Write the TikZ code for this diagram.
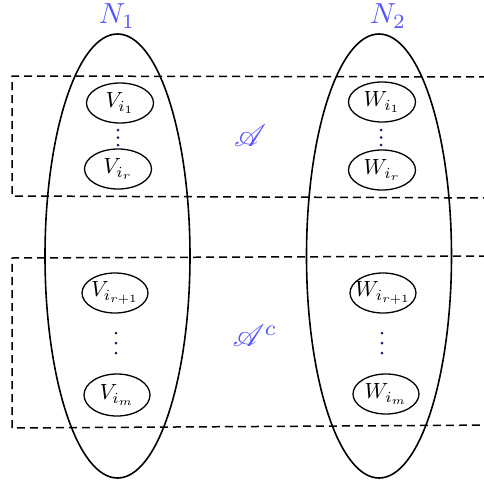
\documentclass[tikz,border=0pt]{standalone}
\usepackage{graphicx}
\usepackage{mathrsfs}
\usetikzlibrary{shapes.geometric}
\definecolor{lblue}{RGB}{85,85,255}
\definecolor{dotnavy}{RGB}{30,30,90}
\newcommand{\elemtxt}[1]{\makebox[0pt][c]{\scalebox{2.2}{$#1$}}}
\newcommand{\settxt}[1]{\scalebox{2.9}{$#1$}}
\newcommand{\evtxt}[1]{\scalebox{3.1}{$#1$}}
\begin{document}
\begin{tikzpicture}[x=1pt,y=-1pt,
  bigset/.style={draw, ellipse, line width=1.6pt, minimum width=145pt, minimum height=444pt, inner sep=0pt},
  elem/.style={draw, ellipse, line width=1.3pt, minimum width=66pt, minimum height=40pt, inner sep=0pt},
  setlabel/.style={text=lblue, inner sep=0pt},
  evlabel/.style={text=lblue, inner sep=0pt},
  region/.style={dashed, dash pattern=on 8pt off 5pt, line width=1.5pt},
  vdot/.style={fill=dotnavy, draw=none, circle, inner sep=0pt, minimum size=3pt}]
\useasboundingbox (0,0) rectangle (484,485);
% dashed regions
\draw[region] (500,77) -- (12,76) -- (12,196) -- (500,198);
\draw[region] (500,256) -- (12,258) -- (12,428) -- (500,425);
% big sets
\node[bigset] (N1) at (117.5,256) {};
\node[bigset] (N2) at (379,256) {};
\node[setlabel] (N1l) at (117,16) {\settxt{N_1}};
\node[setlabel] (N2l) at (388,16) {\settxt{N_2}};
% elements
\node[elem, minimum width=67pt] (V1) at (120,103) {\elemtxt{V_{i_1}}};
\node[elem, minimum width=67pt] (Vr) at (118,169) {\elemtxt{V_{i_r}}};
\node[elem, minimum width=67pt] (W1) at (382,102) {\elemtxt{W_{i_1}}};
\node[elem, minimum width=67pt] (Wr) at (382,170) {\elemtxt{W_{i_r}}};
\node[elem] (Vr1) at (115,293) {\elemtxt{V_{i_{r+1}}}};
\node[elem, minimum height=42pt] (Vm) at (117,395) {\elemtxt{V_{i_m}}};
\node[elem] (Wr1) at (383,293) {\elemtxt{W_{i_{r+1}}}};
\node[elem] (Wm) at (386,394) {\elemtxt{W_{i_m}}};
% dots
\foreach \y [count=\k] in {130,137.5,145} {
  \node[vdot] (da\k) at (118,\y) {};
  \node[vdot] (db\k) at (381,\y) {};
}
\foreach \y [count=\k] in {333,343,353} {
  \node[vdot] (dc\k) at (116,\y) {};
  \node[vdot] (dd\k) at (382,\y) {};
}
% event labels
\node[evlabel] (A) at (250,136) {\evtxt{\mathscr{A}}};
\node[evlabel] (Ac) at (255,336) {\evtxt{\mathscr{A}^c}};
\end{tikzpicture}
\end{document}
